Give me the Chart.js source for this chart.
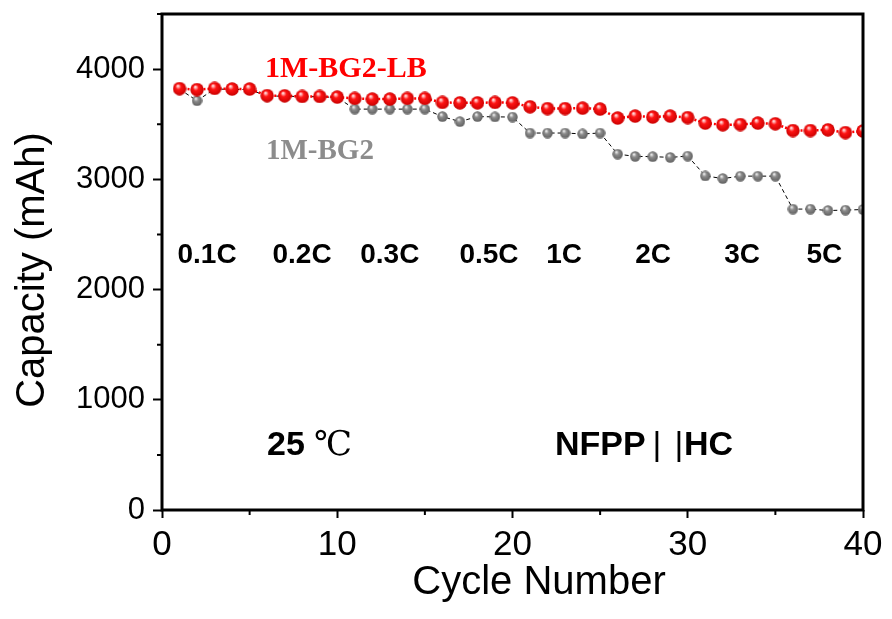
<!DOCTYPE html>
<html>
<head>
<meta charset="utf-8">
<title>Rate capability</title>
<script src="https://cdn.jsdelivr.net/npm/chart.js@4.4.1/dist/chart.umd.min.js"></script>
<style>
  html, body { margin: 0; padding: 0; background: #fff; }
  #capChart { display: block; }
</style>
</head>
<body>
<canvas id="capChart" width="892" height="619"></canvas>
<script>
// cycle index and capacities (mAh) for the two electrolytes
var cycles = [1, 2, 3, 4, 5, 6, 7, 8, 9, 10, 11, 12, 13, 14, 15, 16, 17, 18, 19, 20,
              21, 22, 23, 24, 25, 26, 27, 28, 29, 30, 31, 32, 33, 34, 35, 36, 37, 38, 39, 40];
var capLB = [3823, 3814, 3825, 3819, 3819, 3760, 3758, 3752, 3752, 3746,
             3734, 3728, 3728, 3734, 3734, 3698, 3694, 3694, 3698, 3694,
             3658, 3642, 3642, 3646, 3637, 3556, 3574, 3565, 3574, 3560,
             3510, 3495, 3497, 3510, 3504, 3443, 3443, 3449, 3424, 3438];
var capBG2 = [3818, 3713, 3820, 3815, 3815, 3755, 3755, 3750, 3750, 3742,
              3637, 3637, 3637, 3637, 3637, 3569, 3524, 3569, 3567, 3565,
              3420, 3420, 3420, 3412, 3420, 3229, 3208, 3206, 3199, 3211,
              3031, 3007, 3029, 3029, 3029, 2730, 2730, 2717, 2721, 2726];
var xTicks = [0, 10, 20, 30, 40];
var yTicks = [0, 1000, 2000, 3000, 4000];
var xMinor = [5, 15, 25, 35];
var yMinor = [500, 1500, 2500, 3500, 4500];
var rates = ['0.1C', '0.2C', '0.3C', '0.5C', '1C', '2C', '3C', '5C'];

var SANS = '"Liberation Sans", Arial, sans-serif';
var SERIF = '"Liberation Serif", "Times New Roman", serif';

// shaded ball used as marker
function makeBall(d, light, mid, dark) {
  var c = document.createElement('canvas');
  c.width = d; c.height = d;
  var g = c.getContext('2d');
  var r = d / 2;
  var grad = g.createRadialGradient(r * 0.75, r * 0.6, r * 0.08, r, r, r);
  grad.addColorStop(0, light);
  grad.addColorStop(0.35, mid);
  grad.addColorStop(1, dark);
  g.fillStyle = grad;
  g.beginPath();
  g.arc(r, r, r - 0.3, 0, Math.PI * 2);
  g.fill();
  return c;
}
var redBall = makeBall(14, '#ffe0e0', '#ff1414', '#c80000');
var greyBall = makeBall(11, '#eeeeee', '#8c8c8c', '#5e5e5e');

function toXY(vals) {
  return cycles.map(function (c, i) { return { x: c, y: vals[i] }; });
}

// frame, minor ticks, axis titles and the text labels inside the plot
var decor = {
  id: 'decor',
  afterDraw: function (chart) {
    var ctx = chart.ctx, a = chart.chartArea;
    var xs = chart.scales.x, ys = chart.scales.y;
    ctx.save();
    ctx.strokeStyle = '#000';
    ctx.lineWidth = 3;
    ctx.strokeRect(a.left, a.top, a.right - a.left, a.bottom - a.top);

    ctx.lineWidth = 2;
    ctx.beginPath();
    xMinor.forEach(function (v) {
      var px = xs.getPixelForValue(v);
      ctx.moveTo(px, a.bottom); ctx.lineTo(px, a.bottom + 5);
    });
    yMinor.forEach(function (v) {
      var py = ys.getPixelForValue(v);
      ctx.moveTo(a.left, py); ctx.lineTo(a.left - 5, py);
    });
    ctx.stroke();

    ctx.fillStyle = '#000';
    ctx.textBaseline = 'middle';
    ctx.textAlign = 'center';
    ctx.font = '40px ' + SANS;
    ctx.fillText('Cycle Number', 539, 583);
    ctx.save();
    ctx.translate(33, 270);
    ctx.rotate(-Math.PI / 2);
    ctx.fillText('Capacity (mAh)', 0, 0);
    ctx.restore();

    ctx.textBaseline = 'alphabetic';
    ctx.textAlign = 'left';
    ctx.font = 'bold 30px ' + SERIF;
    ctx.fillStyle = '#ff0000';
    ctx.fillText('1M-BG2-LB', 265, 77);
    ctx.fillStyle = '#8c8c8c';
    ctx.font = 'bold 29px ' + SERIF;
    ctx.fillText('1M-BG2', 266, 159);

    ctx.fillStyle = '#000';
    ctx.textAlign = 'center';
    ctx.font = 'bold 28px ' + SANS;
    var rateX = [2.57, 7.99, 13.0, 18.66, 22.94, 28.02, 33.1, 37.8];
    rates.forEach(function (t, i) {
      ctx.fillText(t, xs.getPixelForValue(rateX[i]), 263);
    });

    ctx.textAlign = 'left';
    ctx.font = 'bold 34px ' + SANS;
    ctx.fillText('25', 267, 455);
    ctx.font = '34px ' + SERIF + ', "DejaVu Serif", "Noto Sans CJK SC"';
    ctx.fillText('\u2103', 314, 455);

    ctx.font = 'bold 34px ' + SANS;
    ctx.fillText('NFPP', 555, 455);
    ctx.fillText('HC', 684, 455);
    ctx.textAlign = 'center';
    ctx.font = '34px ' + SANS;
    ctx.fillText('|', 657, 455);
    ctx.fillText('|', 679, 455);
    ctx.restore();
  }
};

var chart = new Chart(document.getElementById('capChart').getContext('2d'), {
  type: 'line',
  data: {
    datasets: [{
      label: '1M-BG2-LB',
      data: toXY(capLB),
      borderColor: '#ff0000',
      borderWidth: 2.5,
      borderDash: [2, 2],
      pointStyle: redBall,
      pointRadius: 7,
      clip: 0
    }, {
      label: '1M-BG2',
      data: toXY(capBG2),
      borderColor: '#000',
      borderWidth: 1,
      borderDash: [4, 3],
      pointStyle: greyBall,
      pointRadius: 5.5,
      clip: 0
    }]
  },
  options: {
    responsive: false,
    animation: false,
    layout: { padding: { top: 14, right: 29, left: 0, bottom: 0 } },
    plugins: { legend: { display: false }, tooltip: { enabled: false } },
    scales: {
      x: {
        type: 'linear',
        min: 0,
        max: 40,
        afterBuildTicks: function (s) { s.ticks = xTicks.map(function (v) { return { value: v }; }); },
        afterFit: function (s) { s.height = 109; s.paddingLeft = 0; s.paddingRight = 0; },
        grid: { drawOnChartArea: false, tickLength: 8, tickWidth: 2, tickColor: '#000' },
        border: { display: false },
        ticks: { color: '#000', padding: 6, font: { family: SANS, size: 35 } }
      },
      y: {
        min: 0,
        max: 4500,
        afterBuildTicks: function (s) { s.ticks = yTicks.map(function (v) { return { value: v }; }); },
        afterFit: function (s) { s.width = 162; s.paddingTop = 0; s.paddingBottom = 0; },
        grid: { drawOnChartArea: false, tickLength: 9, tickWidth: 2, tickColor: '#000' },
        border: { display: false },
        ticks: {
          color: '#000',
          padding: 8,
          font: { family: SANS, size: 31 },
          callback: function (v) { return String(v); }
        }
      }
    }
  },
  plugins: [decor]
});
</script>
</body>
</html>
